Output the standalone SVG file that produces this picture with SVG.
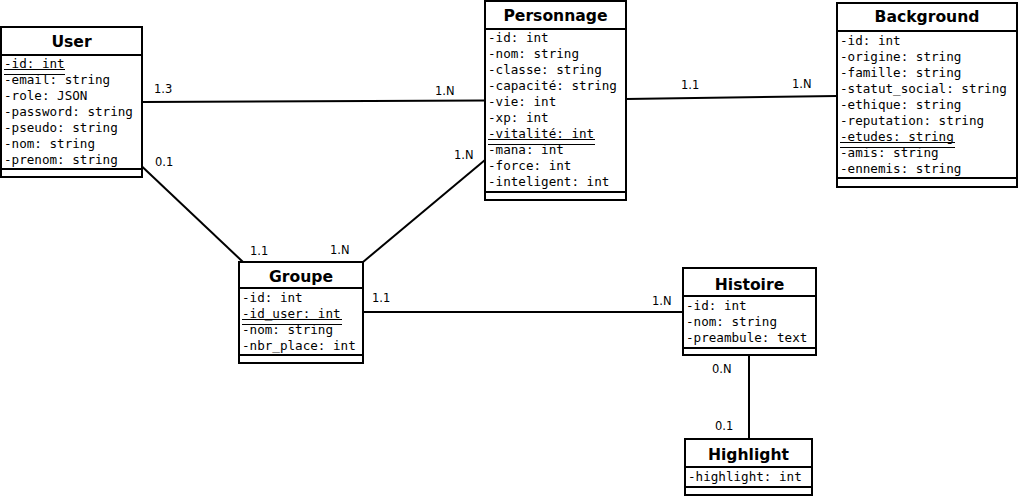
<svg xmlns="http://www.w3.org/2000/svg" width="1019" height="496" viewBox="0 0 1019 496">
<style>
.box{fill:#fff;stroke:#000;stroke-width:2}
.sep{stroke:#000;stroke-width:2}
.ul{stroke:#000;stroke-width:1}
.t{font-family:"DejaVu Sans",sans-serif;font-weight:bold;font-size:15.6px;text-anchor:middle;fill:#000}
.a{font-family:"DejaVu Sans Mono",monospace;font-size:12.6px;fill:#000}
.l{font-family:"DejaVu Sans",sans-serif;font-size:11.5px;fill:#000}
.c{stroke:#000;stroke-width:2;fill:none}
</style>
<rect width="1019" height="496" fill="#fff"/>
<g id="connectors">
<line class="c" x1="142" y1="102" x2="485" y2="100.5"/>
<line class="c" x1="142" y1="166.5" x2="243" y2="262"/>
<line class="c" x1="363" y1="262" x2="485" y2="160"/>
<line class="c" x1="626" y1="99" x2="837" y2="96"/>
<line class="c" x1="363" y1="312" x2="683" y2="312"/>
<line class="c" x1="749" y1="355" x2="749" y2="439"/>
<text class="l" x="154" y="93">1.3</text>
<text class="l" x="435" y="95">1.N</text>
<text class="l" x="155" y="166">0.1</text>
<text class="l" x="250" y="255">1.1</text>
<text class="l" x="330" y="254">1.N</text>
<text class="l" x="454" y="159">1.N</text>
<text class="l" x="681" y="89">1.1</text>
<text class="l" x="792" y="88">1.N</text>
<text class="l" x="372" y="302">1.1</text>
<text class="l" x="652" y="305">1.N</text>
<text class="l" x="712" y="373">0.N</text>
<text class="l" x="715" y="430">0.1</text>
</g>
<g id="user">
<rect class="box" x="1" y="27" width="141" height="150"/>
<line class="sep" x1="1" y1="55" x2="142" y2="55"/>
<line class="sep" x1="1" y1="169" x2="142" y2="169"/>
<text class="t" x="71.5" y="46.5">User</text>
<text class="a" x="4" y="68">-id: int</text>
<line class="ul" x1="4" y1="69.5" x2="65" y2="69.5"/>
<line class="ul" x1="4" y1="74.5" x2="65" y2="74.5"/>
<text class="a" x="4" y="84">-email: string</text>
<text class="a" x="4" y="100">-role: JSON</text>
<text class="a" x="4" y="116">-password: string</text>
<text class="a" x="4" y="132">-pseudo: string</text>
<text class="a" x="4" y="148">-nom: string</text>
<text class="a" x="4" y="164">-prenom: string</text>
</g>
<g id="personnage">
<rect class="box" x="485" y="1" width="141" height="199"/>
<line class="sep" x1="485" y1="29" x2="626" y2="29"/>
<line class="sep" x1="485" y1="192" x2="626" y2="192"/>
<text class="t" x="555.5" y="20.5">Personnage</text>
<text class="a" x="488" y="42">-id: int</text>
<text class="a" x="488" y="58">-nom: string</text>
<text class="a" x="488" y="74">-classe: string</text>
<text class="a" x="488" y="90">-capacité: string</text>
<text class="a" x="488" y="106">-vie: int</text>
<text class="a" x="488" y="122">-xp: int</text>
<text class="a" x="488" y="138">-vitalité: int</text>
<line class="ul" x1="488" y1="139.5" x2="595" y2="139.5"/>
<line class="ul" x1="488" y1="144.5" x2="595" y2="144.5"/>
<text class="a" x="488" y="154">-mana: int</text>
<text class="a" x="488" y="170">-force: int</text>
<text class="a" x="488" y="186">-inteligent: int</text>
</g>
<g id="background">
<rect class="box" x="837" y="3" width="180" height="184"/>
<line class="sep" x1="837" y1="31" x2="1017" y2="31"/>
<line class="sep" x1="837" y1="178" x2="1017" y2="178"/>
<text class="t" x="927" y="22">Background</text>
<text class="a" x="840" y="45">-id: int</text>
<text class="a" x="840" y="61">-origine: string</text>
<text class="a" x="840" y="77">-famille: string</text>
<text class="a" x="840" y="93">-statut_social: string</text>
<text class="a" x="840" y="109">-ethique: string</text>
<text class="a" x="840" y="125">-reputation: string</text>
<text class="a" x="840" y="141">-etudes: string</text>
<line class="ul" x1="840" y1="142.5" x2="955" y2="142.5"/>
<line class="ul" x1="840" y1="147.5" x2="955" y2="147.5"/>
<text class="a" x="840" y="157">-amis: string</text>
<text class="a" x="840" y="173">-ennemis: string</text>
</g>
<g id="groupe">
<rect class="box" x="239" y="262" width="124" height="101"/>
<line class="sep" x1="239" y1="288" x2="363" y2="288"/>
<line class="sep" x1="239" y1="355" x2="363" y2="355"/>
<text class="t" x="301" y="281.5">Groupe</text>
<text class="a" x="242" y="302">-id: int</text>
<text class="a" x="242" y="318">-id_user: int</text>
<line class="ul" x1="242" y1="319.5" x2="342" y2="319.5"/>
<line class="ul" x1="242" y1="324.5" x2="342" y2="324.5"/>
<text class="a" x="242" y="334">-nom: string</text>
<text class="a" x="242" y="350">-nbr_place: int</text>
</g>
<g id="histoire">
<rect class="box" x="683" y="268" width="133" height="87"/>
<line class="sep" x1="683" y1="296" x2="816" y2="296"/>
<line class="sep" x1="683" y1="348" x2="816" y2="348"/>
<text class="t" x="749.5" y="289.5">Histoire</text>
<text class="a" x="686" y="310">-id: int</text>
<text class="a" x="686" y="326">-nom: string</text>
<text class="a" x="686" y="342">-preambule: text</text>
</g>
<g id="highlight">
<rect class="box" x="685" y="439" width="127" height="56"/>
<line class="sep" x1="685" y1="467" x2="812" y2="467"/>
<line class="sep" x1="685" y1="487" x2="812" y2="487"/>
<text class="t" x="748.5" y="459.5">Highlight</text>
<text class="a" x="688" y="481">-highlight: int</text>
</g>
</svg>
